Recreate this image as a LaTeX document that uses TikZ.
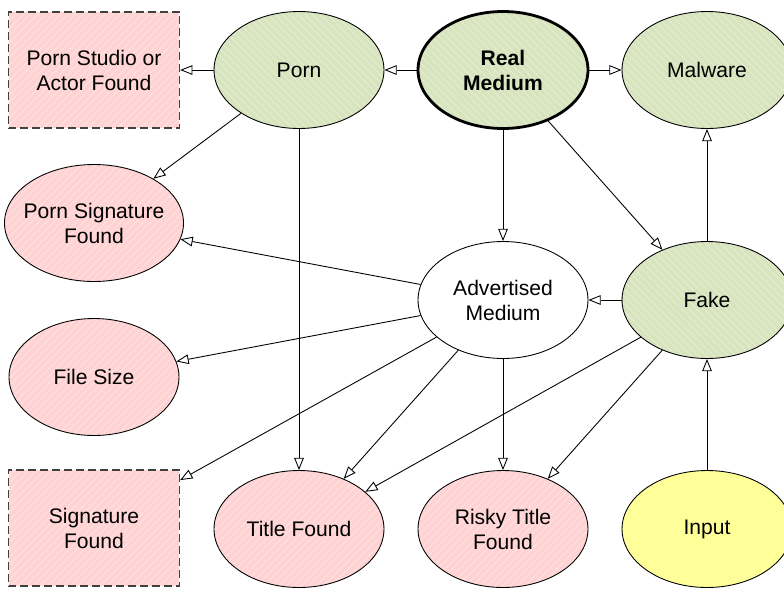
\documentclass[tikz,border=0pt]{standalone}
\usepackage{fontspec}
\setmainfont{Liberation Sans}
\usetikzlibrary{shapes.geometric,arrows.meta,patterns.meta}
\definecolor{pinkfill}{HTML}{FFD3D3}
\definecolor{greenfill}{HTML}{D7E4BD}
\definecolor{yellowfill}{HTML}{FFFF99}
\begin{document}
\begin{tikzpicture}[x=0.02cm,y=-0.02cm,
	state/.style={shape=ellipse,draw,line width=0.5pt,minimum width=3.4cm,minimum height=2.34cm,inner sep=-4pt,align=center,font=\fontsize{12}{14.2}\selectfont},
	found/.style={state,preaction={fill=pinkfill},preaction={pattern={Lines[angle=45,distance=3pt,line width=0.5pt]},pattern color=white!35!pinkfill}},
	kind/.style={state,preaction={fill=greenfill},preaction={pattern={Lines[angle=-45,distance=3pt,line width=0.5pt]},pattern color=white!35!greenfill}},
	dashbox/.style={found,shape=rectangle,inner sep=2pt,draw=black!75,line width=0.8pt,dash pattern=on 4.5pt off 2.3pt,minimum width=3.42cm,minimum height=2.32cm},
	edge/.style={line width=0.5pt,-{Triangle[open,length=7pt,width=5.5pt]}}]
	\useasboundingbox (0,0) rectangle (784,589);
	\node[dashbox](studio) at (94,70) {Porn Studio or\\Actor Found};
	\node[kind](porn) at (299,70) {Porn};
	\node[kind,line width=1.6pt,font=\fontsize{12}{14.2}\selectfont\bfseries](real) at (503,70) {Real\\Medium};
	\node[kind](malware) at (707,70) {Malware};
	\node[found](pornsig) at (94,223) {Porn Signature\\Found};
	\node[state](adv) at (503,300) {Advertised\\Medium};
	\node[kind](fake) at (707,300) {Fake};
	\node[found](size) at (94,377) {File Size};
	\node[dashbox](sig) at (94,528) {Signature\\Found};
	\node[found](title) at (299,529) {Title Found};
	\node[found](risky) at (503,529) {Risky Title\\Found};
	\node[state,fill=yellowfill](input) at (707,529) {Input};
	\draw[edge] (real) -- (porn);
	\draw[edge] (porn) -- (studio);
	\draw[edge] (real) -- (malware);
	\draw[edge] (porn) -- (pornsig);
	\draw[edge] (porn) -- (title);
	\draw[edge] (real) -- (adv);
	\draw[edge] (real) -- (fake);
	\draw[edge] (fake) -- (malware);
	\draw[edge] (fake) -- (adv);
	\draw[edge] (input) -- (fake);
	\draw[edge] (adv) -- (pornsig);
	\draw[edge] (adv) -- (size);
	\draw[edge] (adv) -- (sig);
	\draw[edge] (adv) -- (title);
	\draw[edge] (adv) -- (risky);
	\draw[edge] (fake) -- (title);
	\draw[edge] (fake) -- (risky);
\end{tikzpicture}
\end{document}
